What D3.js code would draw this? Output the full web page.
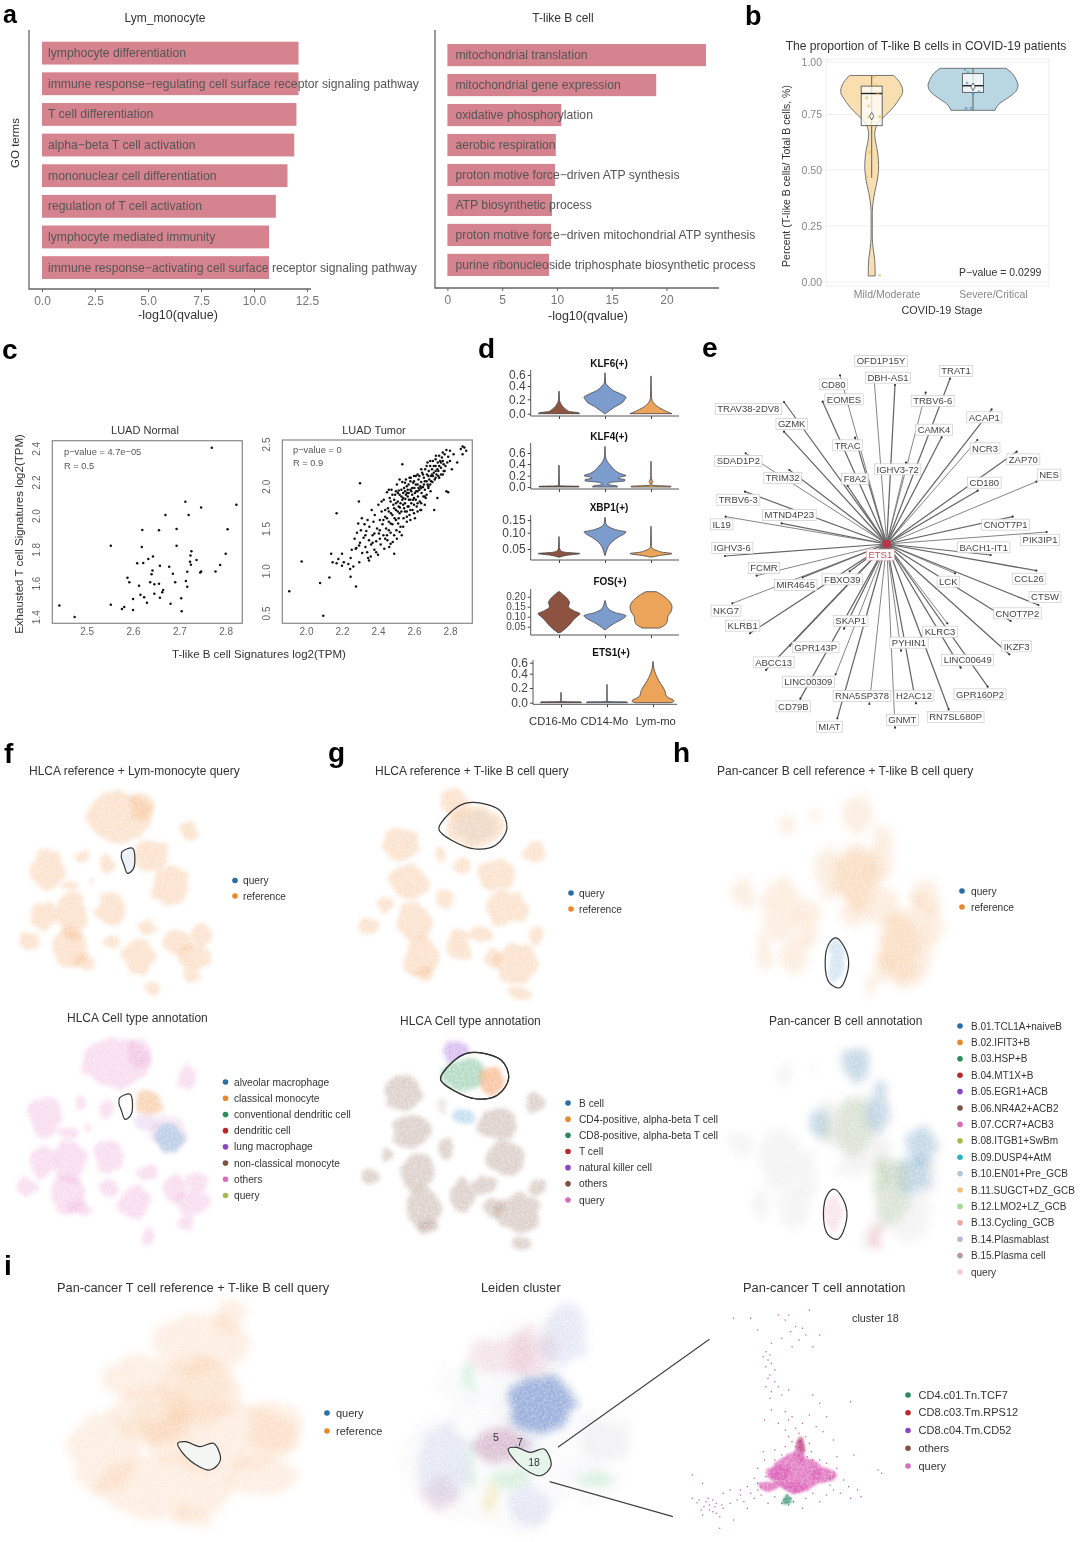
<!DOCTYPE html>
<html><head><meta charset="utf-8">
<script src="https://cdnjs.cloudflare.com/ajax/libs/d3/7.8.5/d3.min.js"></script>
<style>html,body{margin:0;padding:0;background:#fff}svg{display:block;filter:blur(.35px)}text{font-family:"Liberation Sans",Arial,sans-serif}</style>
</head><body><svg id="c" width="1080" height="1542" viewBox="0 0 1080 1542"></svg>
<script>
// ---------- DATA ----------
const lymTerms=["lymphocyte differentiation","immune response−regulating cell surface receptor signaling pathway","T cell differentiation","alpha−beta T cell activation","mononuclear cell differentiation","regulation of T cell activation","lymphocyte mediated immunity","immune response−activating cell surface receptor signaling pathway"];
const lymValues=[12.1,12.1,12.0,11.9,11.58,11.03,10.71,10.71];
const tlbTerms=["mitochondrial translation","mitochondrial gene expression","oxidative phosphorylation","aerobic respiration","proton motive force−driven ATP synthesis","ATP biosynthetic process","proton motive force−driven mitochondrial ATP synthesis","purine ribonucleoside triphosphate biosynthetic process"];
const tlbValues=[23.6,19.06,10.4,9.9,9.82,9.55,9.46,9.28];
const lymTicks=[0,2.5,5,7.5,10,12.5];
const tlbTicks=[0,5,10,15,20];
const covidStages=["Mild/Moderate","Severe/Critical"];
const mildViolin=[[.936,.49],[.91,.6],[.86,.69],[.82,.6],[.77,.42],[.73,.22],[.70,.11],[.66,.067],[.58,.13],[.52,.155],[.46,.13],[.40,.067],[.36,.033],[.31,.013],[.2,.013],[.15,.033],[.1,.067],[.027,.078]];
const severeViolin=[[.97,.73],[.95,.85],[.91,.97],[.89,1],[.86,.95],[.83,.78],[.80,.58],[.77,.49]];
const mildBox={q1:.70,med:.85,q3:.885,lo:.465,hi:.936,mean:.742};
const severeBox={q1:.855,med:.887,q3:.945,lo:.77,hi:.97,mean:.882};
const mildValues=[.93,.89,.83,.85,.79,.74,.74,.58,.47,.03];
const mildJitter=[2,4,-5,6,-3,8,-3,-2,-5,8];
const severeValues=[.965,.95,.90,.85,.86,.78,.78];
const severeJitter=[-8,-5,-6,0,6,-7,-2];
const normalPoints=[[2.441,1.467],[2.474,1.398],[2.552,1.822],[2.552,1.471],[2.576,1.446],[2.581,1.458],[2.600,1.440],[2.600,1.505],[2.592,1.604],[2.588,1.632],[2.609,1.717],[2.613,1.584],[2.616,1.531],[2.624,1.515],[2.630,1.483],[2.619,1.814],[2.620,1.915],[2.622,1.719],[2.633,1.743],[2.637,1.604],[2.640,1.652],[2.642,1.675],[2.643,1.758],[2.646,1.592],[2.646,1.537],[2.656,1.913],[2.656,1.596],[2.658,1.703],[2.658,1.513],[2.663,1.545],[2.665,1.558],[2.670,2.004],[2.678,1.697],[2.681,1.477],[2.686,1.655],[2.691,1.604],[2.694,1.822],[2.694,1.921],[2.704,1.509],[2.705,1.432],[2.714,1.612],[2.713,2.083],[2.717,1.667],[2.717,1.578],[2.720,2.004],[2.723,1.727],[2.724,1.764],[2.726,1.788],[2.725,1.709],[2.737,1.737],[2.747,2.048],[2.745,1.663],[2.747,1.669],[2.778,1.669],[2.788,1.707],[2.800,1.774],[2.804,1.919],[2.823,2.065],[2.770,2.404]];
const tumorPoints=[[1.907,.756],[1.976,1.11],[2.078,.854],[2.13,.92],[2.096,.468],[2.278,.815],[2.17,1.68],[2.30,2.035],[2.294,1.82],[2.535,2.26],[2.14,1.2],[2.148,1.1],[2.17,1.09],[2.18,1.14],[2.2,1.2],[2.2,1.06],[2.21,1.1],[2.235,1.08],[2.245,1.02],[2.248,1.15],[2.248,.93],[2.263,1.05],[2.296,1.1],[2.254,1.25],[2.276,1.26],[2.27,1.38],[2.28,1.27],[2.283,1.45],[2.29,1.56],[2.295,1.30],[2.30,1.33],[2.305,1.48],[2.31,1.62],[2.312,1.21],[2.32,1.39],[2.325,1.55],[2.33,1.28],[2.335,1.47],[2.34,1.22],[2.342,1.6],[2.35,1.36],[2.352,1.52],[2.36,1.17],[2.362,1.31],[2.365,1.72],[2.37,1.42],[2.375,1.58],[2.38,1.25],[2.382,1.66],[2.39,1.35],[2.395,1.5],[2.40,1.19],[2.402,1.78],[2.405,1.44],[2.41,1.6],[2.415,1.31],[2.42,1.7],[2.425,1.55],[2.43,1.42],[2.432,1.84],[2.435,1.26],[2.44,1.64],[2.445,1.5],[2.45,1.93],[2.452,1.36],[2.455,1.74],[2.46,1.58],[2.462,1.28],[2.465,1.86],[2.47,1.45],[2.472,1.68],[2.475,1.96],[2.48,1.55],[2.482,1.34],[2.485,1.78],[2.49,1.2],[2.492,1.62],[2.495,1.9],[2.5,1.72],[2.502,1.48],[2.505,2.02],[2.51,1.82],[2.512,1.56],[2.515,1.95],[2.52,1.68],[2.522,1.75],[2.525,1.52],[2.53,1.88],[2.532,1.42],[2.535,2.05],[2.54,1.78],[2.542,1.62],[2.545,1.98],[2.55,1.7],[2.552,1.85],[2.555,2.08],[2.56,1.58],[2.562,1.92],[2.565,1.76],[2.57,2.02],[2.572,1.84],[2.575,1.66],[2.58,1.96],[2.582,2.1],[2.585,1.8],[2.59,1.9],[2.592,1.72],[2.595,2.04],[2.6,1.86],[2.602,1.98],[2.605,1.62],[2.61,2.12],[2.612,1.94],[2.615,1.76],[2.62,2.02],[2.622,1.88],[2.625,2.08],[2.63,1.96],[2.632,1.82],[2.635,1.72],[2.64,2.05],[2.642,1.92],[2.645,2.16],[2.65,1.99],[2.652,1.88],[2.655,2.1],[2.66,1.96],[2.662,2.2],[2.665,1.86],[2.67,2.06],[2.672,2.14],[2.675,2.28],[2.68,2.0],[2.682,2.18],[2.685,2.08],[2.69,2.24],[2.692,1.94],[2.695,2.12],[2.7,2.2],[2.702,2.05],[2.705,2.3],[2.71,2.16],[2.712,1.72],[2.715,2.08],[2.72,2.24],[2.722,2.36],[2.725,2.14],[2.73,1.86],[2.732,2.28],[2.735,2.18],[2.74,2.1],[2.745,2.3],[2.75,2.22],[2.755,2.34],[2.76,2.14],[2.765,2.26],[2.77,2.18],[2.78,1.94],[2.79,1.93],[2.78,2.43],[2.8,2.42],[2.82,2.38],[2.79,2.35],[2.785,2.28],[2.80,2.3],[2.81,2.2],[2.84,2.28],[2.86,2.44],[2.87,2.47],[2.88,2.46],[2.89,2.42],[2.87,2.38],[2.33,1.42],[2.345,1.15],[2.38,1.44],[2.41,1.48],[2.44,1.38],[2.46,1.7],[2.47,1.82],[2.48,1.66],[2.49,1.84],[2.5,1.6],[2.51,1.7],[2.52,1.9],[2.53,1.96],[2.54,1.86],[2.55,1.94],[2.56,2.0],[2.565,1.88],[2.57,1.76],[2.575,2.1],[2.59,1.98],[2.6,2.06],[2.61,1.84],[2.62,1.94],[2.63,2.12],[2.64,1.8],[2.65,2.14],[2.66,2.06],[2.67,1.9],[2.68,2.12],[2.69,2.02],[2.7,2.14],[2.71,2.24],[2.72,2.1],[2.73,2.2],[2.74,2.24],[2.75,2.14],[2.76,2.3],[2.77,2.38],[2.775,2.24],[2.44,1.72],[2.45,1.62],[2.46,1.48],[2.47,1.56],[2.48,1.9],[2.49,1.74],[2.5,1.8],[2.51,1.92],[2.515,1.62],[2.525,1.8],[2.53,1.7],[2.54,1.92],[2.55,1.8],[2.56,1.7],[2.57,1.92],[2.58,1.72],[2.58,1.84],[2.6,1.78],[2.61,2.02],[2.62,1.8],[2.64,1.98],[2.66,1.88],[2.68,1.98],[2.35,1.12],[2.37,1.33],[2.39,1.22],[2.41,1.38],[2.43,1.6],[2.45,1.42],[2.47,1.32],[2.49,1.42],[2.505,1.38],[2.52,1.46],[2.54,1.52],[2.56,1.64],[2.58,1.6],[2.6,1.68],[2.62,1.7],[2.64,1.72],[2.66,1.78],[2.42,1.82],[2.46,1.96],[2.5,1.94],[2.52,2.08],[2.55,2.04],[2.58,2.06],[2.6,2.12],[2.62,2.14],[2.64,2.2],[2.67,2.24],[2.69,2.3],[2.72,2.32],[2.74,2.36],[2.76,2.4],[2.515,1.76],[2.535,1.84],[2.545,1.74],[2.555,1.9],[2.565,1.96],[2.585,1.94],[2.595,1.84],[2.605,1.92],[2.625,1.98],[2.635,2.0],[2.655,2.02],[2.675,2.02],[2.695,2.06],[2.705,2.12],[2.72,2.18],[2.735,2.12],[2.75,2.28],[2.765,2.18]];
const genes=["KLF6(+)","KLF4(+)","XBP1(+)","FOS(+)","ETS1(+)"];
const monoGroups=["CD16-Mo","CD14-Mo","Lym-mo"];
const geneTicks=[[0,.2,.4,.6],[0,.2,.4,.6],[.05,.10,.15],[.05,.10,.15,.20],[0,.2,.4,.6]];
const geneViolins=[
 [[[0,.98],[.012,.95],[.03,.5],[.06,.33],[.1,.18],[.14,.08],[.2,.02],[.32,.008]],
  [[0,.02],[.05,.25],[.1,.5],[.15,.8],[.2,.95],[.23,1],[.28,.75],[.33,.4],[.38,.2],[.42,.1],[.45,.03],[.64,.006]],
  [[0,1],[.03,.75],[.06,.55],[.1,.3],[.14,.15],[.18,.06],[.25,.02],[.58,.008]]],
 [[[0,.95],[.012,.95],[.02,.02],[.38,.006]],
  [[0,.6],[.02,.55],[.045,.12],[.08,.25],[.11,.95],[.13,.95],[.155,.62],[.18,.75],[.2,1],[.24,.7],[.3,.45],[.36,.3],[.45,.1],[.55,.02],[.72,.005]],
  [[0,.95],[.012,.95],[.03,.06],[.07,.03],[.09,.1],[.11,.06],[.2,.01],[.45,.005]]],
 [[[.025,.03],[.031,.4],[.036,1],[.04,.3],[.045,.08],[.055,.02],[.088,.005]],
  [[.03,.006],[.04,.05],[.05,.1],[.07,.3],[.085,.6],[.098,.95],[.103,1],[.11,.6],[.12,.25],[.13,.08],[.14,.03],[.16,.008]],
  [[.025,.02],[.03,.4],[.036,1],[.04,.55],[.045,.3],[.05,.1],[.06,.02],[.125,.005]]],
 [[[.02,.05],[.04,.3],[.06,.5],[.08,.65],[.10,.85],[.115,1],[.13,.7],[.15,.45],[.17,.5],[.19,.4],[.21,.2],[.225,.03]],
  [[.035,.03],[.05,.2],[.07,.5],[.09,.85],[.105,1],[.12,.5],[.14,.15],[.16,.06],[.18,.01]],
  [[.043,.4],[.06,.68],[.08,.78],[.10,.8],[.125,.95],[.15,1],[.18,.85],[.21,.5],[.225,.25]]],
 [[[0,.98],[.01,.95],[.015,.01],[.14,.005]],
  [[0,.98],[.01,.95],[.015,.01],[.25,.005]],
  [[0,.85],[.02,1],[.04,.95],[.07,.72],[.1,.62],[.15,.58],[.2,.5],[.3,.28],[.4,.12],[.5,.04],[.62,.008]]]
];
const networkGenes=["OFD1P15Y","DBH-AS1","TRAT1","CD80","EOMES","TRAC","TRBV6-6","CAMK4","ACAP1","NCR3","ZAP70","CD180","NES","TRAV38-2DV8","GZMK","SDAD1P2","TRIM32","F8A2","IGHV3-72","TRBV6-3","MTND4P23","IL19","IGHV3-6","CNOT7P1","PIK3IP1","BACH1-IT1","CCL26","FCMR","MIR4645","FBXO39","LCK","CTSW","CNOT7P2","NKG7","KLRB1","SKAP1","KLRC3","IKZF3","GPR143P","PYHIN1","ABCC13","LINC00649","LINC00309","GPR160P2","CD79B","RNA5SP378","H2AC12","MIAT","GNMT","RN7SL680P"];
const networkLabelPos=[[543,63],[564,113],[768,93],[400,133],[432,178],[443,316],[698,183],[702,269],[853,232],[855,325],[970,358],[853,428],[1047,404],[145,207],[275,252],[115,363],[248,414],[465,416],[593,388],[115,479],[268,525],[65,553],[97,624],[917,554],[1020,600],[851,622],[987,716],[192,684],[287,735],[427,718],[745,725],[1035,771],[952,820],[78,812],[128,857],[452,843],[720,875],[950,919],[347,922],[627,908],[221,967],[803,960],[325,1025],[840,1063],[280,1099],[486,1068],[642,1067],[388,1160],[607,1140],[767,1131]];
const networkNodePos=[[523,125],[585,135],[750,116],[420,106],[368,185],[465,293],[677,158],[725,292],[875,208],[832,300],[950,335],[833,452],[1009,425],[252,186],[252,275],[137,340],[268,390],[443,438],[618,368],[135,455],[245,550],[77,530],[75,648],[938,530],[1040,576],[872,645],[1009,692],[170,707],[308,712],[449,694],[765,700],[1015,795],[932,843],[97,790],[150,880],[432,866],[742,850],[928,943],[270,917],[603,932],[198,990],[782,983],[407,1003],[863,1040],[301,1076],[508,1092],[648,1090],[412,1135],[585,1163],[746,1108]];
const networkHub=[560,612];
// UMAP cell clouds: [centre x, centre y, spread x, spread y] in embedding units
const hlcaFCommon=[[345,215,100,72],[410,185,35,45],[550,260,28,35],[140,375,50,60],[240,335,18,18],[315,360,22,28],[205,425,25,15],[130,510,40,45],[210,510,45,65],[325,495,45,50],[205,610,50,60],[240,650,35,25],[430,545,30,25],[320,590,25,25],[400,635,45,50],[515,590,35,40],[580,570,30,30],[565,635,50,40],[550,695,25,20],[440,735,22,25],[85,590,30,25],[265,410,8,10]];
const hlcaFMono=[[440,330,50,50],[495,425,55,60]];
const hlcaGTop=[[1320,175,40,40],[1380,245,85,60]];
const hlcaGCommon=[[1165,295,55,50],[1440,390,55,50],[1190,410,55,50],[1470,490,60,50],[1290,460,22,30],[1205,530,50,60],[1070,545,25,25],[1225,640,50,60],[1235,690,30,22],[1335,600,35,50],[1400,570,35,25],[1500,655,65,60],[1430,640,25,30],[1510,745,30,20],[1550,320,30,30],[1556,575,20,30],[1120,480,18,25]];
const hlcaGSmall=[[1283,330,14,22],[1340,365,28,22]];
const panBCells=[[925,200,45,50],[920,380,70,100],[985,340,35,55],[840,370,40,70],[1060,590,80,120],[1120,440,45,55],[700,470,60,90],[590,430,35,40],[650,600,25,50],[740,610,40,60],[710,230,20,30],[1000,270,25,30],[800,210,10,20],[1140,520,25,60],[990,650,25,40],[960,700,20,35],[780,520,30,70],[920,490,50,30],[1000,470,40,60]];
const panBDense=[[920,390,50,85],[1050,590,55,95],[1095,450,25,30]];
const panBQuery=[[860,630,25,60]];
const panBAnnotated={blue:[[925,200,40,48],[980,340,30,55],[1110,440,40,60],[1085,520,50,60],[815,370,28,45],[1000,270,20,25]],olive:[[915,380,50,90],[1025,560,55,100],[835,380,12,55],[1000,500,14,60]],rose:[[985,700,15,40]]};
const panTCells=[[335,170,20,50],[290,250,70,90],[290,390,60,100],[225,470,60,90],[150,580,50,120],[320,530,110,100],[240,680,100,100],[280,770,30,40],[400,500,40,80],[380,650,50,60],[200,350,50,60]];
const panTDense=[[295,380,42,70],[225,480,42,60]];
const leidenClouds={blue:[[305,415,48,85]],plum:[[245,540,40,50]],rose:[[250,270,50,60],[290,260,35,70],[160,690,30,50]],lavender:[[340,210,35,90],[165,600,40,120],[290,720,30,60],[280,540,20,30]],green:[[200,330,10,50],[260,640,30,30],[205,600,6,70],[380,640,25,25]],yellow:[[230,700,8,50]],grey:[[400,530,40,60]],teal:[[300,610,30,40]]};
const clusterMass={query:[[1155,640,38,55],[1130,640,18,25],[1195,645,18,22],[1162,575,9,35],[1115,680,15,15],[1150,680,20,15]],maroon:[[1163,555,6,22]],teal:[[1143,720,6,16]]};
const clusterOthers=[[1145,165],[1140,180],[1155,200],[1165,205],[1148,215],[1170,225],[1135,235],[1160,240],[1190,225],[1150,260],[1112,275],[1118,285],[1108,290],[1115,300],[1120,310],[1112,320],[1125,330],[1118,345],[1115,355],[1125,365],[1130,380],[1112,380],[1120,395],[1135,405],[1118,415],[1145,390],[1180,405],[1190,430],[1235,425],[1140,455],[1150,470],[1175,465],[1145,480],[1165,490],[1155,505],[1140,510],[1185,500],[1160,520],[1170,530],[1145,530],[1162,545],[1175,550],[1155,560],[1168,570],[1178,575],[1160,585],[1172,590],[1180,600],[1065,175],[1090,175],[1195,515],[1108,575],[1125,570],[1240,585],[1215,625],[1280,640],[1275,630],[1005,645],[1020,670],[1005,715],[1015,720],[1025,725],[1030,735],[1038,740],[1030,750],[1040,760],[1045,770],[1020,765],[1050,745],[1035,720],[1075,690],[1090,700],[1075,705],[1100,690],[1060,730],[1095,715],[1115,730],[1085,745],[1165,745],[1190,725],[1220,700],[1245,690],[1235,715],[1210,690],[1250,710],[1060,690],[1045,805],[1065,780],[1110,600],[1100,625],[1112,650],[1095,655],[1105,680],[1085,680],[1200,610],[1210,650],[1225,660],[1232,680],[1205,675],[1190,600],[1182,620],[1135,585],[1125,600],[1140,560],[1150,545],[1012,728],[1022,740],[1028,715],[1040,730],[1048,735],[1018,750],[1035,755],[1050,700],[1070,720],[1080,725],[1105,705],[1125,710],[1170,715],[1180,700],[1200,705],[1120,450],[1110,480],[1130,490],[1200,470],[1210,540],[1215,590],[1120,250],[1100,210],[1180,260],[1130,165],[1175,150]];
const clusterGreens=[[1143,705],[1138,720],[1148,715],[1145,735],[1135,730],[1152,725],[1100,670],[1205,655]];
const outlineF=[[355,320],[385,310],[388,370],[370,385],[360,360],[352,335]];
const outlineG=[[1280,235],[1350,175],[1450,195],[1472,250],[1440,300],[1380,312],[1310,285],[1275,255]];
const outlineH=[[860,560],[890,600],[895,650],[870,705],[840,690],[828,630],[840,575]];
const outlineI=[[258,550],[270,545],[290,560],[310,550],[320,600],[305,630],[275,600]];
const queryRef=["query","reference"];
const hlcaFTypes=["alveolar macrophage","classical monocyte","conventional dendritic cell","dendritic cell","lung macrophage","non-classical monocyte","others","query"];
const hlcaGTypes=["B cell","CD4-positive, alpha-beta T cell","CD8-positive, alpha-beta T cell","T cell","natural killer cell","others","query"];
const panBTypes=["B.01.TCL1A+naiveB","B.02.IFIT3+B","B.03.HSP+B","B.04.MT1X+B","B.05.EGR1+ACB","B.06.NR4A2+ACB2","B.07.CCR7+ACB3","B.08.ITGB1+SwBm","B.09.DUSP4+AtM","B.10.EN01+Pre_GCB","B.11.SUGCT+DZ_GCB","B.12.LMO2+LZ_GCB","B.13.Cycling_GCB","B.14.Plasmablast","B.15.Plasma cell","query"];
const clusterTypes=["CD4.c01.Tn.TCF7","CD8.c03.Tm.RPS12","CD8.c04.Tm.CD52","others","query"];

// ---------- HELPERS ----------
const svg=d3.select("#c");
const defs=svg.append("defs");
function makeFilter(id,scale,blur,seed){
 const flt=defs.append("filter").attr("id",id).attr("filterUnits","userSpaceOnUse").attr("x",0).attr("y",0).attr("width",1080).attr("height",1542).attr("color-interpolation-filters","sRGB");
 flt.append("feTurbulence").attr("type","fractalNoise").attr("baseFrequency",.06).attr("numOctaves",3).attr("seed",seed).attr("result","warp");
 flt.append("feDisplacementMap").attr("in","SourceGraphic").attr("in2","warp").attr("scale",scale).attr("xChannelSelector","R").attr("yChannelSelector","G").attr("result","d");
 flt.append("feGaussianBlur").attr("in","d").attr("stdDeviation",blur).attr("result","b");
 flt.append("feTurbulence").attr("type","fractalNoise").attr("baseFrequency",.45).attr("numOctaves",2).attr("seed",9).attr("result","fine");
 flt.append("feColorMatrix").attr("in","fine").attr("type","matrix").attr("values","0 0 0 0 0 0 0 0 0 0 0 0 0 0 0 0 0 0 .9 .45").attr("result","mask");
 flt.append("feComposite").attr("in","b").attr("in2","mask").attr("operator","in");
}
makeFilter("umap",12,2.2,4);makeFilter("soft",18,4.5,7);makeFilter("mass",9,1.1,3);
function T(x,y,s,o={}){const t=svg.append("text").attr("x",x).attr("y",y).text(s).attr("font-size",o.size||12).attr("fill",o.fill||"#333").attr("text-anchor",o.anchor||"start");
 if(o.weight)t.attr("font-weight",o.weight);if(o.rot)t.attr("transform",`rotate(${o.rot} ${x} ${y})`);return t;}
const letters=[["a",3,23,25],["b",745,25,27],["c",2,359,28],["d",478,358,28],["e",702,357,28],["f",4,763,28],["g",328,762,28],["h",673,762,28],["i",4,1275,28]];
letters.forEach(l=>T(l[1],l[2],l[0],{size:l[3],weight:"bold",fill:"#000"}));
function styleAxis(g,c,fs,tc){g.select(".domain").attr("stroke",c).attr("stroke-width",1.3);g.selectAll(".tick line").attr("stroke",c);g.selectAll(".tick text").attr("fill",tc).attr("font-size",fs).attr("font-family","Liberation Sans, Arial");}

// ---------- a ----------
function goPanel(terms,vals,ticks,fmt,o){
 const x=d3.scaleLinear().domain(o.xd).range(o.xr);
 const y=d3.scaleBand().domain(terms).range(o.yr).paddingInner(o.pad).paddingOuter(0);
 const g=svg.append("g");
 g.selectAll("rect").data(terms).join("rect").attr("x",x(0)).attr("y",d=>y(d)).attr("height",y.bandwidth()).attr("width",(d,i)=>x(vals[i])-x(0)).attr("fill","#d5838f");
 g.selectAll("text").data(terms).join("text").attr("x",x(0)+o.tx).attr("y",d=>y(d)+y.bandwidth()/2+4).text(d=>d).attr("font-size",12.2).attr("fill","#555");
 const ax=svg.append("g").attr("transform",`translate(0,${o.base})`).call(d3.axisBottom(x).tickValues(ticks).tickFormat(fmt).tickSize(3).tickPadding(4));
 ax.select(".domain").remove();
 styleAxis(ax,"#666",12,"#777");
 svg.append("path").attr("d",`M${o.ax},${o.top}V${o.base}H${o.xe}`).attr("fill","none").attr("stroke","#666").attr("stroke-width",1.3);
}
goPanel(lymTerms,lymValues,lymTicks,d3.format(".1f"),{xd:[0,12.5],xr:[42,307],yr:[41.7,279],pad:.255,tx:6,base:289,ax:29,top:30,xe:311});
goPanel(tlbTerms,tlbValues,tlbTicks,d3.format("d"),{xd:[0,20],xr:[447.4,666.5],yr:[44,276],pad:.26,tx:8,base:288,ax:435,top:30,xe:719});
T(165,22,"Lym_monocyte",{anchor:"middle",size:12});T(563,22,"T-like B cell",{anchor:"middle",size:12});
T(178,319,"-log10(qvalue)",{anchor:"middle",size:12.5});T(588,320,"-log10(qvalue)",{anchor:"middle",size:12.5});
T(19,143,"GO terms",{anchor:"middle",size:11.5,rot:-90});

// ---------- b ----------
(function(){
 const gridVals=[0,.25,.5,.75,1];
 const y=d3.scaleLinear().domain(gridVals).range([282,226,170,114.5,62]);
 const lab=d3.scalePoint().domain(covidStages).range([886.5,993]);
 const cx=d3.scalePoint().domain(covidStages).range([871.7,973]);
 const w=d3.scaleLinear().domain([0,1]).range([0,45]);
 svg.append("rect").attr("x",826).attr("y",59).attr("width",223).attr("height",227).attr("fill","none").attr("stroke","#f0f0f0").attr("stroke-width",1.2);
 gridVals.forEach(t=>svg.append("line").attr("x1",826).attr("x2",1049).attr("y1",y(t)).attr("y2",y(t)).attr("stroke","#f0f0f0"));
 const ay=svg.append("g").attr("transform","translate(826,0)").call(d3.axisLeft(y).tickValues(gridVals).tickFormat(d3.format(".2f")).tickSize(0).tickPadding(4));
 ay.select(".domain").remove();styleAxis(ay,"#ccc",10.5,"#888");
 const ax=svg.append("g").attr("transform","translate(0,286)").call(d3.axisBottom(lab).tickSize(0).tickPadding(5));
 ax.select(".domain").remove();styleAxis(ax,"#ccc",10.5,"#888");
 [[covidStages[0],mildViolin,mildBox,mildValues,mildJitter,"#f9dfb0","#e9b850"],[covidStages[1],severeViolin,severeBox,severeValues,severeJitter,"#b9d6e3","#4d93b5"]].forEach(c=>{
  const X=cx(c[0]);
  const area=d3.area().y(d=>y(d[0])).x0(d=>X-w(d[1])).x1(d=>X+w(d[1])).curve(d3.curveMonotoneY);
  svg.append("path").attr("d",area(c[1])).attr("fill",c[5]).attr("stroke","#666").attr("stroke-width",.9);
  const b=c[2];
  svg.append("line").attr("x1",X).attr("x2",X).attr("y1",y(b.hi)).attr("y2",y(b.lo)).attr("stroke","#555").attr("stroke-width",.9);
  svg.append("rect").attr("x",X-10.5).attr("width",21).attr("y",y(b.q3)).attr("height",y(b.q1)-y(b.q3)).attr("fill","#fff").attr("fill-opacity",.75).attr("stroke","#666");
  svg.append("line").attr("x1",X-10.5).attr("x2",X+10.5).attr("y1",y(b.med)).attr("y2",y(b.med)).attr("stroke","#222").attr("stroke-width",1.4);
  svg.append("path").attr("d",d3.symbol(d3.symbolDiamond,16)()).attr("transform",`translate(${X},${y(b.mean)})`).attr("fill","#fff").attr("stroke","#444").attr("stroke-width",.8);
  c[3].forEach((v,i)=>svg.append("circle").attr("cx",X+c[4][i]).attr("cy",y(v)).attr("r",1.5).attr("fill",c[6]).attr("fill-opacity",.6));
 });
 T(926,50,"The proportion of T-like B cells in COVID-19 patients",{anchor:"middle",size:12.1});
 T(942,314,"COVID-19 Stage",{anchor:"middle",size:10.8});
 T(790,176,"Percent (T-like B cells/ Total B cells, %)",{anchor:"middle",size:10.5,rot:-90});
 T(959,276,"P−value = 0.0299",{size:10.5});
})();

// ---------- c ----------
function rScatter(pts,o){
 const x=d3.scaleLinear().domain(o.xd).range(o.xr),y=d3.scaleLinear().domain(o.yd).range(o.yr);
 svg.append("rect").attr("x",o.L).attr("y",o.Tp).attr("width",190).attr("height",o.B-o.Tp).attr("fill","none").attr("stroke","#888").attr("stroke-width",1.2);
 svg.append("g").selectAll("circle").data(pts).join("circle").attr("cx",d=>x(d[0])).attr("cy",d=>y(d[1])).attr("r",o.r).attr("fill","#111");
 const ax=svg.append("g").attr("transform",`translate(0,${o.B})`).call(d3.axisBottom(x).tickValues(o.xt).tickFormat(d3.format(".1f")).tickSize(0).tickPadding(5));
 ax.select(".domain").remove();styleAxis(ax,"#888",10,"#666");
 const ay=svg.append("g").attr("transform",`translate(${o.L},0)`).call(d3.axisLeft(y).tickValues(o.yt).tickFormat(d3.format(".1f")).tickSize(0).tickPadding(8));
 ay.select(".domain").remove();styleAxis(ay,"#888",10,"#666");
 ay.selectAll(".tick text").attr("text-anchor","middle").attr("x",0).attr("dy",0).attr("transform",`translate(${-o.tick},0) rotate(-90)`);
}
rScatter(normalPoints,{xd:[2.5,2.8],xr:[86.7,225.7],yd:[1.4,2.4],yr:[616.7,448.3],L:52.3,Tp:440.7,B:623.3,r:1.25,xt:[2.5,2.6,2.7,2.8],yt:[1.4,1.6,1.8,2.0,2.2,2.4],tick:12});
rScatter(tumorPoints,{xd:[2.0,2.8],xr:[306,450],yd:[.5,2.5],yr:[613,444],L:282.3,Tp:440,B:623.3,r:1.25,xt:[2,2.2,2.4,2.6,2.8],yt:[.5,1,1.5,2,2.5],tick:12});
T(145,434,"LUAD Normal",{anchor:"middle",size:11});T(374,434,"LUAD Tumor",{anchor:"middle",size:11});
T(64,455,"p−value = 4.7e−05",{size:9.3,fill:"#555"});T(64,469,"R = 0.5",{size:9.3,fill:"#555"});
T(293,453,"p−value = 0",{size:9.3,fill:"#555"});T(293,466,"R = 0.9",{size:9.3,fill:"#555"});
T(23,534,"Exhausted T cell Signatures log2(TPM)",{anchor:"middle",size:11.5,rot:-90});
T(259,658,"T-like B cell Signatures log2(TPM)",{anchor:"middle",size:11.5});

// ---------- d ----------
(function(){
 const colors=["#8d5240","#7d9cce","#eba45a"];
 const px=[[413.7,399.3,386,375],[487,475.7,464,453],[549,532.7,520],[626.7,616.7,606.7,596.7],[702.7,688,673.7,662.7]];
 const frame=[{top:370,base:416,ax:530.7,xe:679,cx:[559,605,651],title:609,ty:367},{top:443,base:489,ax:530.7,xe:679,cx:[559,605,651],title:609,ty:440},{top:515,base:560,ax:530.7,xe:679,cx:[559,605,651],title:609,ty:511},{top:589,base:635,ax:530.7,xe:679,cx:[559,605,651],title:610,ty:585},{top:660,base:704.3,ax:533,xe:677,cx:[561,607,653],title:611,ty:656}];
 const w=d3.scaleLinear().domain([0,1]).range([0,21]);
 genes.forEach((gn,i)=>{
  const f=frame[i],y=d3.scaleLinear().domain(geneTicks[i]).range(px[i]);
  const x=d3.scalePoint().domain(monoGroups).range([f.cx[0],f.cx[2]]);
  geneViolins[i].forEach((v,j)=>{
   const X=x(monoGroups[j]);
   const a=d3.area().y(d=>y(d[0])).x0(d=>X-w(d[1])).x1(d=>X+w(d[1])).curve(d3.curveMonotoneY);
   svg.append("path").attr("d",a(v)).attr("fill",colors[j]).attr("stroke","#444").attr("stroke-width",.8);
  });
  const ay=svg.append("g").attr("transform",`translate(${f.ax},0)`).call(d3.axisLeft(y).tickValues(geneTicks[i]).tickFormat(d3.format(i==2||i==3?".2f":".1f")).tickSize(3).tickPadding(2));
  ay.select(".domain").remove();styleAxis(ay,"#444",i==3?10:12,"#444");
  const ax=svg.append("g").attr("transform",`translate(0,${f.base})`).call(d3.axisBottom(x).tickSize(3).tickFormat(""));
  ax.select(".domain").remove();styleAxis(ax,"#444",10,"#444");
  svg.append("path").attr("d",`M${f.ax},${f.top}V${f.base}H${f.xe}`).attr("fill","none").attr("stroke","#555").attr("stroke-width",1);
  T(f.title,f.ty,gn,{anchor:"middle",size:10,weight:"bold",fill:"#111"});
 });
 const lx=d3.scalePoint().domain(monoGroups).range([553,655.7]);
 monoGroups.forEach(m=>T(lx(m),725,m,{anchor:"middle",size:11.2,fill:"#333"}));
})();

// ---------- e ----------
(function(){
 const x=d3.scaleLinear().domain([0,1140]).range([700,1080]),y=d3.scaleLinear().domain([0,1200]).range([340,740]);
 const hx=x(networkHub[0]),hy=y(networkHub[1]);
 networkGenes.forEach((g,i)=>{const n=networkNodePos[i];
  svg.append("line").attr("x1",hx).attr("y1",hy).attr("x2",x(n[0])).attr("y2",y(n[1])).attr("stroke","#666").attr("stroke-width",i%3==0?.8:1.25);
  svg.append("circle").attr("cx",x(n[0])).attr("cy",y(n[1])).attr("r",1.1).attr("fill","#333");});
 networkGenes.forEach((g,i)=>{const l=networkLabelPos[i];
  const t=T(x(l[0]),y(l[1])+3.3,g,{anchor:"middle",size:9.5,fill:"#444"});
  const wd=t.node().getComputedTextLength()+4;
  svg.insert("rect",()=>t.node()).attr("x",x(l[0])-wd/2).attr("y",y(l[1])-5.5).attr("width",wd).attr("height",11).attr("fill","#fff").attr("fill-opacity",.9).attr("stroke","#ccc").attr("stroke-width",.7);
 });
 svg.append("circle").attr("cx",hx).attr("cy",hy).attr("r",4).attr("fill","#c23045");
 const t=T(x(541),y(644)+3.3,"ETS1",{anchor:"middle",size:9.5,fill:"#c0505a"});
 const wd=t.node().getComputedTextLength()+4;
 svg.insert("rect",()=>t.node()).attr("x",x(541)-wd/2).attr("y",y(644)-5.5).attr("width",wd).attr("height",11).attr("fill","#fff").attr("stroke","#eebbc0").attr("stroke-width",.7);
})();

// ---------- UMAPs ----------
function scales(dx,dy,rx,ry){return {x:d3.scaleLinear().domain(dx).range(rx),y:d3.scaleLinear().domain(dy).range(ry)};}
function clouds(s,data,color,op,f){
 const g=svg.append("g").attr("filter",`url(#${f||"umap"})`);
 g.selectAll("ellipse").data(data).join("ellipse").attr("cx",d=>s.x(d[0])).attr("cy",d=>s.y(d[1])).attr("rx",d=>Math.abs(s.x(d[2])-s.x(0))).attr("ry",d=>Math.abs(s.y(d[3])-s.y(0))).attr("fill",color).attr("fill-opacity",op);
}
function outline(s,pts,fill){
 const l=d3.line().x(d=>s.x(d[0])).y(d=>s.y(d[1])).curve(d3.curveCatmullRomClosed.alpha(.5));
 svg.append("path").attr("d",l(pts)).attr("fill",fill).attr("stroke","#333").attr("stroke-width",1.2);
}
function legend(items,cols,dotX,textX,y0,y1,fs){
 const y=d3.scalePoint().domain(items).range([y0,y1]);
 items.forEach((it,i)=>{svg.append("circle").attr("cx",dotX).attr("cy",y(it)).attr("r",2.8).attr("fill",cols[i]);
  T(textX,y(it)+3.6,it,{size:fs||10.2,fill:"#333"});});
}
const blue="#2a6ea3",orange="#e8892e",green="#2e8b5c",red="#b8282d",purple="#8a46c4",brown="#7d5246",pink="#d66fbb",olive="#a8b84f";
const refC="#f4b27a",refOp=.36;
// f top / bottom
const fT=scales([0,1568],[0,1530],[0,540],[745,1255]);
const fB=scales([0,1568],[0,1530],[-2.4,537.6],[991,1501]);
clouds(fT,hlcaFCommon.concat(hlcaFMono),refC,refOp);outline(fT,outlineF,"#eef2f8");
clouds(fB,hlcaFCommon,"#eeb0dc",.42);clouds(fB,[hlcaFMono[1].slice(0,2).concat([55,55])],"#e3b2de",.3);
clouds(fB,[[440,335,38,38]],"#f5b480",.55);clouds(fB,[[430,395,40,25]],"#d5b2e2",.35);clouds(fB,[[495,440,42,42]],"#8fbcdc",.55);
outline(fB,outlineF,"#fff");
T(29,775,"HLCA reference + Lym-monocyte query",{size:12});
T(67,1022,"HLCA Cell type annotation",{size:12});
legend(queryRef,[blue,orange],235,243,880.5,896);
legend(hlcaFTypes,[blue,orange,green,red,purple,brown,pink,olive],225.5,234,1082,1195.5);
// g top / bottom
const gT=scales([0,1568],[0,1530],[0,540],[745,1255]);
const gB=scales([0,1568],[0,1530],[1.7,541.7],[995,1505]);
clouds(gT,hlcaGTop.concat(hlcaGCommon,hlcaGSmall),refC,refOp);clouds(gT,[[1380,245,60,45]],"#b9b9a8",.2);outline(gT,outlineG,"none");
clouds(gB,hlcaGCommon,"#bda59a",.5);clouds(gB,[hlcaGSmall[0]],"#ddd7d0",.55);
clouds(gB,[hlcaGTop[0]],"#c9a6ea",.7);clouds(gB,[hlcaGSmall[1]],"#a8d0e8",.65);
outline(gB,outlineG,"#fff");
clouds(gB,[[1345,240,65,50]],"#8fc9a8",.65);clouds(gB,[[1425,260,38,45]],"#f7b88c",.8);outline(gB,outlineG,"none");
T(375,775,"HLCA reference + T-like B cell query",{size:12});
T(400,1025,"HLCA Cell type annotation",{size:12});
legend(queryRef,[blue,orange],571,579,893,909);
legend(hlcaGTypes,[blue,orange,green,red,purple,brown,pink],568,579,1103,1200);
// h top / bottom
const hT=scales([0,1568],[0,1568],[540,1080],[745,1285]);
const hB=scales([0,1568],[0,1568],[538.3,1078.3],[996.4,1536.4]);
clouds(hT,panBCells,refC,.24,"soft");clouds(hT,panBDense,refC,.24,"soft");clouds(hT,panBQuery,"#bcd6ea",.6);outline(hT,outlineH,"none");
clouds(hB,panBCells,"#cfcac6",.2,"soft");clouds(hB,panBAnnotated.blue,"#82b2d6",.42,"soft");clouds(hB,panBAnnotated.olive,"#b8ccac",.42,"soft");clouds(hB,panBAnnotated.rose,"#ebb0b6",.6,"soft");clouds(hB,panBQuery,"#f8dce5",.7);outline(hB,outlineH,"none");
T(717,775,"Pan-cancer B cell reference + T-like B cell query",{size:12});
T(769,1025,"Pan-cancer B cell annotation",{size:12});
legend(queryRef,[blue,orange],962,971,891,907);
legend(panBTypes,[blue,orange,green,red,purple,brown,pink,"#a8b84f","#2bb3c0","#b4c7d8","#f5c078","#a8dc98","#f0a8a0","#b8b8d4","#b89a94","#f4c8dc"],960,971,1026,1272,10);
// i
const iL=scales([0,1568],[0,846],[0,1080],[1260,1542]);
const iM=scales([-480,1088],[-17,829],[0,1080],[1260,1542]);
clouds(iL,panTCells,refC,.22,"soft");clouds(iL,panTDense,refC,.15,"soft");outline(iL,outlineI,"#f3f6f2");
clouds(iM,panTCells,"#dcdce4",.12,"soft");
clouds(iM,leidenClouds.rose,"#e3a9ba",.28,"soft");clouds(iM,leidenClouds.lavender,"#a9b4e0",.26,"soft");clouds(iM,leidenClouds.green,"#a6e2b8",.42,"soft");clouds(iM,leidenClouds.yellow,"#f2dc88",.5,"soft");clouds(iM,leidenClouds.grey,"#ddd",.22,"soft");clouds(iM,leidenClouds.plum,"#b77aa0",.42,"soft");clouds(iM,leidenClouds.blue,"#5f80c8",.6,"soft");
outline(iM,outlineI,"#e6f4ec");
T(57,1292,"Pan-cancer T cell reference + T-like B cell query",{size:12.8});
T(481,1292,"Leiden cluster",{size:12.8});
T(743,1292,"Pan-cancer T cell annotation",{size:12.8});
T(852,1322,"cluster 18",{size:10.8});
T(496,1441,"5",{size:10.5,anchor:"middle"});T(520,1446,"7",{size:10.5,anchor:"middle"});T(534,1466,"18",{size:10.5,anchor:"middle"});
legend(queryRef,[blue,orange],327,336,1413,1431,11);
legend(clusterTypes,[green,red,purple,brown,pink],908,918.5,1395,1466,11);
// connector lines and cluster 18 zoom
[[[810,562],[1030,238]],[[798,665],[977,770]]].forEach(s=>svg.append("line").attr("x1",iL.x(s[0][0])).attr("y1",iL.y(s[0][1])).attr("x2",iL.x(s[1][0])).attr("y2",iL.y(s[1][1])).attr("stroke","#444").attr("stroke-width",1.2));
clouds(iL,clusterMass.query,"#dc62b6",.8,"mass");
svg.append("g").selectAll("circle").data(clusterOthers).join("circle").attr("cx",d=>iL.x(d[0])).attr("cy",d=>iL.y(d[1])).attr("r",.75).attr("fill","#a8385a").attr("fill-opacity",.75);
clouds(iL,clusterMass.maroon,"#a83a5a",.5,"mass");clouds(iL,clusterMass.teal,"#2e8b6c",.85,"mass");
svg.append("g").selectAll("circle.g").data(clusterGreens).join("circle").attr("cx",d=>iL.x(d[0])).attr("cy",d=>iL.y(d[1])).attr("r",.8).attr("fill",green);
</script></body></html>
